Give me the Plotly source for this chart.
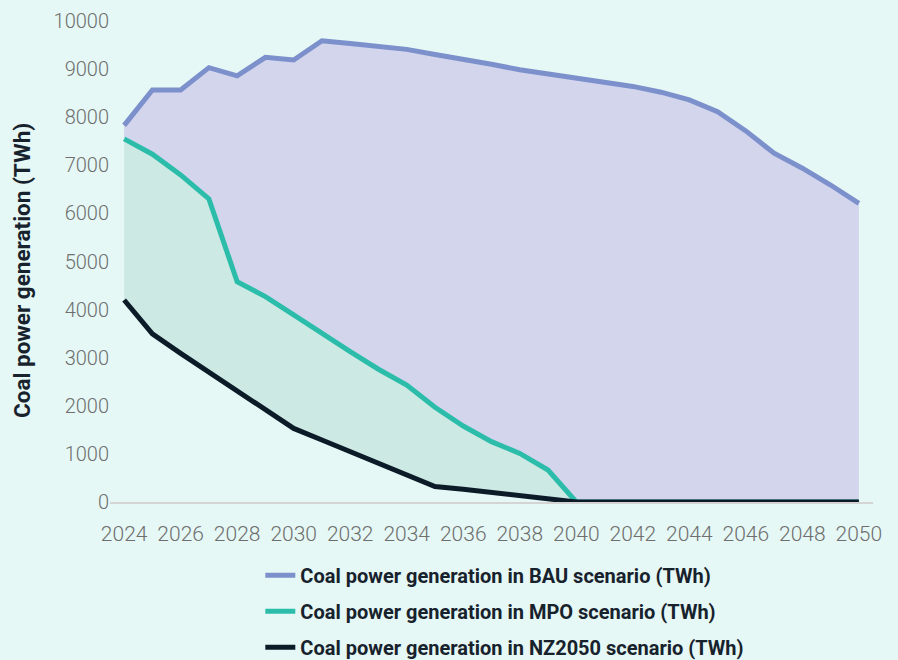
import plotly.graph_objects as go

years = list(range(2024, 2051))

bau = [7830, 8565, 8565, 9030, 8860, 9245, 9190, 9590, 9530, 9470,
       9410, 9305, 9210, 9100, 8985, 8900, 8790, 8720, 8640, 8520,
       8360, 8115, 7715, 7250, 6940, 6590, 6210]

mpo = [7550, 7230, 6800, 6300, 4580, 4270, 3890, 3495, 3125, 2760,
       2430, 1970, 1580, 1255, 1010, 665, 0, 0, 0, 0,
       0, 0, 0, 0, 0, 0, 0]

nz2050 = [4200, 3495, 3090, 2695, 2295, 1915, 1530, 1290, 1045, 805,
          560, 320, 265, 200, 145, 75, 0, 0, 0, 0,
          0, 0, 0, 0, 0, 0, 0]

names = [
    "Coal power generation in BAU scenario (TWh)",
    "Coal power generation in MPO scenario (TWh)",
    "Coal power generation in NZ2050 scenario (TWh)",
]
y_title = "Coal power generation (TWh)"

x_ticks = list(range(2024, 2051, 2))
y_ticks = list(range(0, 10001, 1000))

BG = "#E5F8F5"
BAU_LINE = "#7C90CC"
BAU_FILL = "#D2D5EC"
MPO_LINE = "#2CBDAA"
MPO_FILL = "#CDE9E4"
NZ_LINE = "#0C1B28"
TICK_COLOR = "#6E6E6E"
DARK_TEXT = "#17222D"

fig = go.Figure()

# Shaded bands: green between NZ2050 and MPO, lavender between MPO and BAU
fig.add_trace(go.Scatter(x=years, y=nz2050, mode="lines", line=dict(width=0),
                         showlegend=False, hoverinfo="skip"))
fig.add_trace(go.Scatter(x=years, y=mpo, mode="lines", line=dict(width=0),
                         fill="tonexty", fillcolor=MPO_FILL,
                         showlegend=False, hoverinfo="skip"))
fig.add_trace(go.Scatter(x=years, y=bau, mode="lines", line=dict(width=0),
                         fill="tonexty", fillcolor=BAU_FILL,
                         showlegend=False, hoverinfo="skip"))

# Scenario lines on top of the bands
fig.add_trace(go.Scatter(x=years, y=bau, mode="lines", name=names[0],
                         legendgroup="bau",
                         line=dict(color=BAU_LINE, width=5)))
fig.add_trace(go.Scatter(x=years, y=mpo, mode="lines", name=names[1],
                         legendgroup="mpo",
                         line=dict(color=MPO_LINE, width=5)))
fig.add_trace(go.Scatter(x=years, y=nz2050, mode="lines", name=names[2],
                         legendgroup="nz",
                         line=dict(color=NZ_LINE, width=5)))

# Vertical axis title, placed as a rotated annotation
fig.add_annotation(
    text=y_title,
    xref="paper", yref="paper",
    x=-0.1155, y=0.482,
    xanchor="center", yanchor="middle",
    textangle=-90,
    showarrow=False,
    font=dict(family="Roboto", size=22.5, color=DARK_TEXT, weight="bold"),
)

fig.update_layout(
    width=898,
    height=660,
    paper_bgcolor=BG,
    plot_bgcolor=BG,
    margin=dict(l=110, r=25, t=21, b=158, autoexpand=False),
    font=dict(family="Roboto", size=20, color=TICK_COLOR),
    showlegend=True,
    legend=dict(
        orientation="v",
        x=0.197, xanchor="left",
        y=-0.112, yanchor="top",
        font=dict(family="Roboto", size=20, color=DARK_TEXT, weight="bold"),
        tracegroupgap=7,
        bgcolor="rgba(0,0,0,0)",
    ),
    xaxis=dict(
        range=[2023.5, 2050.5],
        tickmode="array",
        tickvals=x_ticks,
        ticktext=[str(v) for v in x_ticks],
        showgrid=False,
        zeroline=False,
        showline=True,
        linecolor="#D4D4D4",
        linewidth=2,
        ticks="outside",
        ticklen=12,
        tickcolor="rgba(0,0,0,0)",
        tickfont=dict(family="Roboto", size=21, color=TICK_COLOR, weight=300),
    ),
    yaxis=dict(
        range=[0, 10000],
        tickmode="array",
        tickvals=y_ticks,
        ticktext=[str(v) for v in y_ticks],
        showgrid=False,
        zeroline=False,
        showline=False,
        ticks="",
        tickfont=dict(family="Roboto", size=20, color=TICK_COLOR, weight=300),
    ),
)

fig.write_html("out.html")
